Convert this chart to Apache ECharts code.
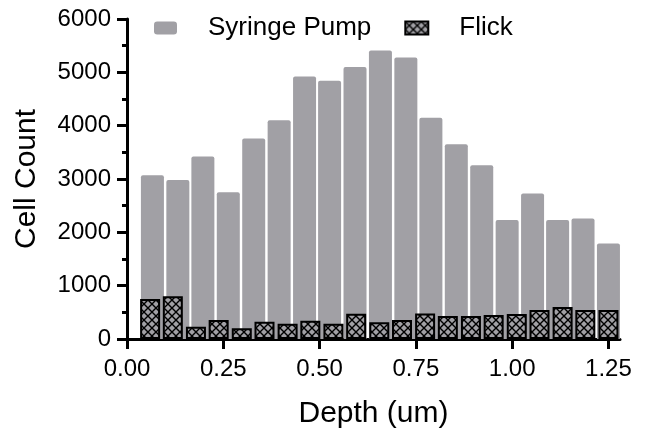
<!DOCTYPE html>
<html lang="en">
<head>
    <meta charset="UTF-8">
    <title>Cell Count vs Depth</title>
    <style type="text/css">
        *{
            margin: 0;
            padding: 0;
        }
        #main{
            width: 649px;
            height: 438px;
            position: absolute;
        }
    </style>
</head>
<body>
    <div id="main"></div>
    <script src="https://cdn.jsdelivr.net/npm/echarts@6/dist/echarts.min.js"></script>
    <script type="text/javascript">
        // 数据
        var pumpDepth = [0.066, 0.132, 0.197, 0.263, 0.329, 0.395, 0.461, 0.526, 0.592, 0.658,
            0.724, 0.789, 0.855, 0.921, 0.987, 1.053, 1.118, 1.184, 1.250];
        var pumpCount = [3070, 2980, 3420, 2750, 3760, 4100, 4920, 4840, 5100, 5410,
            5280, 4150, 3650, 3260, 2230, 2730, 2230, 2260, 1790];
        var flickDepth = [0.060, 0.119, 0.179, 0.238, 0.298, 0.357, 0.417, 0.476, 0.536, 0.595,
            0.655, 0.714, 0.774, 0.833, 0.893, 0.952, 1.012, 1.071, 1.131, 1.190, 1.250];
        var flickCount = [750, 800, 230, 356, 200, 325, 288, 344, 288, 475,
            313, 356, 480, 430, 430, 450, 470, 545, 600, 545, 545];
        var xTicks = [0, 0.25, 0.5, 0.75, 1.0, 1.25];

        var gray = '#a1a0a5';
        var font = 'Liberation Sans, Arial, sans-serif';

        // 交叉网格图案
        var hatch = document.createElement('canvas');
        hatch.width = 8;
        hatch.height = 8;
        var ctx = hatch.getContext('2d');
        ctx.fillStyle = gray;
        ctx.fillRect(0, 0, 8, 8);
        ctx.strokeStyle = '#000';
        ctx.lineWidth = 1.4;
        ctx.beginPath();
        ctx.moveTo(-1, -1); ctx.lineTo(9, 9);
        ctx.moveTo(-1, 9); ctx.lineTo(9, -1);
        ctx.stroke();

        var myChart = echarts.init(document.getElementById('main'));

        function zip(xs, ys) {
            return xs.map(function (x, i) { return [x, ys[i]]; });
        }

        var axisLine = { lineStyle: { color: '#000', width: 3 } };
        var option = {
            animation: false,
            grid: {
                left: 127,
                right: 29,
                top: 19,
                bottom: 99,
                containLabel: false,
                outerBoundsMode: 'none'
            },
            legend: {
                left: 149,
                top: 10,
                itemWidth: 23,
                itemHeight: 13,
                itemGap: 33,
                textStyle: {
                    fontFamily: font,
                    fontSize: 26,
                    color: '#000',
                    padding: [0, 0, 0, 26]
                },
                data: [
                    { name: 'Syringe Pump', icon: 'roundRect' },
                    { name: 'Flick', icon: 'rect' }
                ]
            },
            xAxis: [{
                type: 'value',
                min: 0,
                max: 1.28,
                interval: 0.25,
                name: 'Depth (um)',
                nameLocation: 'middle',
                nameGap: 60,
                nameTextStyle: { fontFamily: font, fontSize: 30, color: '#000' },
                axisLine: axisLine,
                axisTick: {
                    length: 10,
                    customValues: xTicks,
                    lineStyle: { color: '#000', width: 3 }
                },
                axisLabel: {
                    customValues: xTicks,
                    margin: 18,
                    fontFamily: font,
                    fontSize: 24,
                    color: '#000',
                    formatter: function (v) { return v.toFixed(2); }
                },
                splitLine: { show: false }
            }, {
                type: 'value',
                min: 0,
                max: 1.28,
                show: false
            }],
            yAxis: {
                type: 'value',
                min: 0,
                max: 6000,
                interval: 1000,
                name: 'Cell Count',
                nameLocation: 'middle',
                nameGap: 85,
                nameTextStyle: { fontFamily: font, fontSize: 30, color: '#000' },
                axisLine: { show: true, lineStyle: { color: '#000', width: 3 } },
                axisTick: { show: true, length: 10, lineStyle: { color: '#000', width: 3 } },
                minorTick: { show: true, splitNumber: 2, length: 5, lineStyle: { color: '#000', width: 3 } },
                axisLabel: {
                    margin: 16,
                    fontFamily: font,
                    fontSize: 24,
                    color: '#000',
                    formatter: function (v) { return String(v); }
                },
                splitLine: { show: false }
            },
            series: [{
                name: 'Syringe Pump',
                type: 'bar',
                xAxisIndex: 0,
                barWidth: 23,
                data: zip(pumpDepth, pumpCount),
                itemStyle: {
                    color: gray,
                    borderRadius: [2, 2, 0, 0]
                }
            }, {
                name: 'Flick',
                type: 'bar',
                xAxisIndex: 1,
                barWidth: 20,
                data: zip(flickDepth, flickCount),
                itemStyle: {
                    color: { image: hatch, repeat: 'repeat' },
                    borderColor: '#000',
                    borderWidth: 2
                }
            }]
        };

        myChart.setOption(option);
    </script>
</body>
</html>
